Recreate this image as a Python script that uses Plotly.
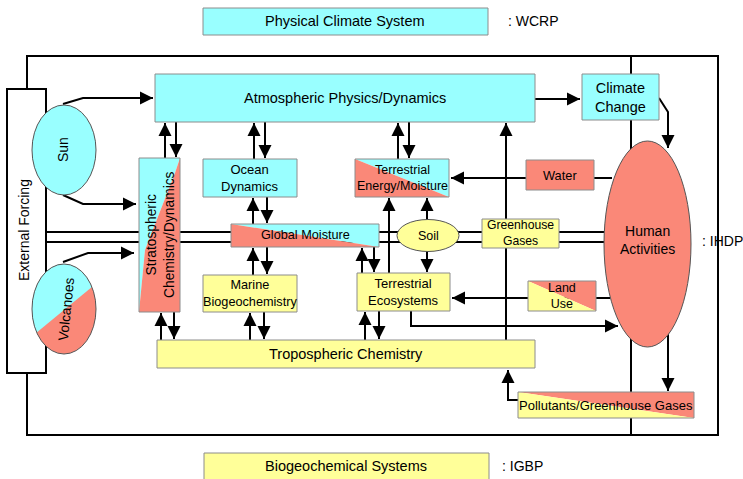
import numpy as np
import plotly.graph_objects as go

CYAN = '#99ffff'
SALMON = '#fa8878'
YELLOW = '#ffff99'
EDGE = '#8c8c8c'
FONT = 'Liberation Sans, Arial, sans-serif'

# plain boxes: label, x0, y0, x1, y1, fill
box_labels = ['Physical Climate System', 'Biogeochemical Systems', 'External Forcing',
              'Atmospheric Physics/Dynamics', 'Climate<br>Change', 'Ocean<br>Dynamics',
              'Water', 'Greenhouse<br>Gases', 'Marine<br>Biogeochemistry',
              'Terrestrial<br>Ecosystems', 'Tropospheric Chemistry']
box_x0 = [203, 204, 7, 155, 582, 203, 526, 482, 203, 357, 157]
box_y0 = [8, 453, 89, 74, 74, 159, 160, 219, 275, 273, 340]
box_x1 = [488, 489, 46, 535, 659, 297, 594, 559, 297, 450, 535]
box_y1 = [35, 480, 373, 122, 120, 197, 190, 248, 312, 311, 368]
box_fill = [CYAN, YELLOW, 'white', CYAN, CYAN, CYAN, SALMON, YELLOW, YELLOW, YELLOW, YELLOW]

# boxes split along a diagonal: corners, colour of upper triangle, lower triangle
split_labels = ['Terrestrial<br>Energy/Moisture', 'Global Moisture', 'Land<br>Use',
                'Pollutants/Greenhouse Gases']
split_x0 = [355, 231, 528, 518]
split_y0 = [159, 224, 281, 392]
split_x1 = [449, 379, 596, 694]
split_y1 = [197, 247, 311, 418]
split_top = [CYAN, CYAN, SALMON, SALMON]
split_bottom = [SALMON, SALMON, YELLOW, YELLOW]

# ellipses
ell_labels = ['Sun', 'Soil', 'Human<br>Activities']
ell_cx = [64, 428, 647.5]
ell_cy = [150, 235.5, 244]
ell_rx = [32, 31, 43.5]
ell_ry = [45, 16, 103]
ell_fill = [CYAN, YELLOW, SALMON]

# arrows as polylines, the last point is the tip
arrows = [
    [(63, 104), (83, 98), (153, 98)],
    [(63, 195), (83, 204), (136, 204)],
    [(63, 262), (88, 253), (134, 253)],
    [(535, 99), (580, 99)],
    [(659, 98), (668, 112), (668, 148)],
    [(165, 158), (165, 123)], [(176, 122), (176, 157)],
    [(254, 159), (254, 123)], [(265, 122), (265, 158)],
    [(398, 159), (398, 123)], [(409, 122), (409, 158)],
    [(253, 224), (253, 198)], [(267, 197), (267, 223)],
    [(253, 275), (253, 248)], [(267, 247), (267, 274)],
    [(362, 273), (362, 248)], [(374, 247), (374, 272)],
    [(389, 273), (389, 198)],
    [(427, 220), (427, 198)], [(427, 251), (427, 272)],
    [(161, 340), (161, 313)], [(174, 312), (174, 339)],
    [(250, 340), (250, 313)], [(264, 312), (264, 339)],
    [(365, 340), (365, 312)], [(379, 311), (379, 339)],
    [(506, 340), (506, 123)],
    [(612, 178), (451, 178)],
    [(610, 298), (452, 298)],
    [(411, 311), (411, 326), (618, 326)],
    [(518, 400), (508, 400), (508, 370)],
    [(668, 330), (668, 391)],
]

# plain connecting lines
frame = [(27, 89), (27, 56), (718, 56), (718, 435), (27, 435), (27, 373)]
links = [[(631, 56), (631, 435)], [(46, 232), (604, 232)], [(46, 242), (604, 242)]]

side_labels = [': WCRP', ': IGBP', ': IHDP']
side_x = [506, 500, 700]
side_y = [21, 466, 241]


def poly_path(pts):
    return 'M ' + ' L '.join(f'{x:.2f},{y:.2f}' for x, y in pts) + ' Z'


def ellipse_pts(cx, cy, rx, ry, n=160):
    t = np.linspace(0, 2 * np.pi, n, endpoint=False)
    return np.column_stack([cx + rx * np.cos(t), cy + ry * np.sin(t)])


def line_shape(pts, width=2):
    path = 'M ' + ' L '.join(f'{x},{y}' for x, y in pts)
    return dict(type='path', path=path, line=dict(color='black', width=width),
                xref='x', yref='y')


fig = go.Figure()
shapes = []
annotations = []

# lines go first so the boxes sit on top of them
shapes.append(line_shape(frame))
for ln in links:
    shapes.append(line_shape(ln))
for arr in arrows:
    shapes.append(line_shape(arr))

for lab, x0, y0, x1, y1, fill in zip(box_labels, box_x0, box_y0, box_x1, box_y1, box_fill):
    shapes.append(dict(type='rect', x0=x0, y0=y0, x1=x1, y1=y1, fillcolor=fill,
                       line=dict(color=EDGE if fill != 'white' else 'black',
                                 width=1 if fill != 'white' else 2)))

for x0, y0, x1, y1, top, bot in zip(split_x0, split_y0, split_x1, split_y1, split_top, split_bottom):
    shapes.append(dict(type='path', path=poly_path([(x0, y0), (x1, y0), (x1, y1)]),
                       fillcolor=top, line=dict(width=0)))
    shapes.append(dict(type='path', path=poly_path([(x0, y0), (x1, y1), (x0, y1)]),
                       fillcolor=bot, line=dict(width=0)))
    shapes.append(dict(type='rect', x0=x0, y0=y0, x1=x1, y1=y1,
                       line=dict(color=EDGE, width=1)))

# stratospheric box, curved split
strat = [(139, 158), (180, 158), (175, 173), (145, 250), (139, 312)]
strat_low = [(180, 158), (180, 312), (139, 312), (145, 250), (175, 173)]
shapes.append(dict(type='path', path=poly_path(strat), fillcolor=CYAN, line=dict(width=0)))
shapes.append(dict(type='path', path=poly_path(strat_low), fillcolor=SALMON, line=dict(width=0)))
shapes.append(dict(type='rect', x0=139, y0=158, x1=180, y1=312, line=dict(color=EDGE, width=1)))

for cx, cy, rx, ry, fill in zip(ell_cx, ell_cy, ell_rx, ell_ry, ell_fill):
    shapes.append(dict(type='circle', x0=cx - rx, y0=cy - ry, x1=cx + rx, y1=cy + ry,
                       fillcolor=fill, line=dict(color='#555555', width=1)))

# volcanoes: salmon ellipse with a cyan cap above the chord
vc = ellipse_pts(64, 309, 32, 45)
shapes.append(dict(type='circle', x0=32, y0=264, x1=96, y1=354, fillcolor=SALMON,
                   line=dict(width=0)))
a, b = np.array([37, 333]), np.array([92, 288])
side = (b[0] - a[0]) * (vc[:, 1] - a[1]) - (b[1] - a[1]) * (vc[:, 0] - a[0])
mask = side < 0
k = int(np.argmax(mask & ~np.roll(mask, 1)))
vc_r, mask_r = np.roll(vc, -k, axis=0), np.roll(mask, -k)
cap = [tuple(p) for p in vc_r[mask_r]]
shapes.append(dict(type='path', path=poly_path(cap), fillcolor=CYAN, line=dict(width=0)))
shapes.append(dict(type='circle', x0=32, y0=264, x1=96, y1=354,
                   line=dict(color='#555555', width=1)))

# arrow heads
for arr in arrows:
    (xa, ya), (xt, yt) = arr[-2], arr[-1]
    d = np.hypot(xt - xa, yt - ya)
    tail = (xt - (xt - xa) * 8 / d, yt - (yt - ya) * 8 / d)
    annotations.append(dict(x=xt, y=yt, ax=tail[0], ay=tail[1], xref='x', yref='y',
                            axref='x', ayref='y', showarrow=True, arrowhead=2,
                            arrowsize=1.3, arrowwidth=2, arrowcolor='black',
                            standoff=0, text=''))


def label(text, x, y, size, angle=0, anchor='center'):
    annotations.append(dict(x=x, y=y, text=text, showarrow=False, textangle=angle,
                            xanchor=anchor, yanchor='middle',
                            font=dict(family=FONT, size=size, color='black')))


label('Physical Climate System', 345, 21, 14.5)
label('Biogeochemical Systems', 346, 466, 14.5)
label('External Forcing', 24, 230, 14, -90)
label('Atmospheric Physics/Dynamics', 345, 98, 14.5)
label('Climate<br>Change', 620, 97, 14.5)
label('Ocean<br>Dynamics', 250, 178, 13)
label('Water', 560, 175, 12.8)
label('Greenhouse<br>Gases', 520, 233, 12.2)
label('Marine<br>Biogeochemistry', 250, 293, 12.7)
label('Terrestrial<br>Ecosystems', 403, 292, 13)
label('Tropospheric Chemistry', 346, 354, 14.5)
label('Terrestrial<br>Energy/Moisture', 402, 178, 12.5)
label('Global Moisture', 305, 235, 12.7)
label('Land<br>Use', 562, 296, 12.5)
label('Pollutants/Greenhouse Gases', 606, 405, 13)
label('Stratospheric<br>Chemistry/Dynamics', 160, 235, 13.8, -90)
label('Sun', 63, 150, 14, -90)
label('Soil', 428, 236, 12.5)
label('Human<br>Activities', 647, 240, 14)
label('Volcanoes', 66, 309, 13.8, -84)
for t, x, y in zip(side_labels, side_x, side_y):
    label(t, x, y, 14, anchor='left')

fig.update_layout(
    width=743, height=479,
    margin=dict(l=0, r=0, t=0, b=0),
    paper_bgcolor='white', plot_bgcolor='white',
    shapes=shapes, annotations=annotations,
    showlegend=False,
    xaxis=dict(range=[0, 743], visible=False, fixedrange=True),
    yaxis=dict(range=[479, 0], visible=False, fixedrange=True),
)

# the page body has a default 8px margin, drop it so the figure fills the window
fig.write_html("out.html", config={'displayModeBar': False},
               post_script="document.body.style.margin='0';document.body.style.overflow='hidden';")
